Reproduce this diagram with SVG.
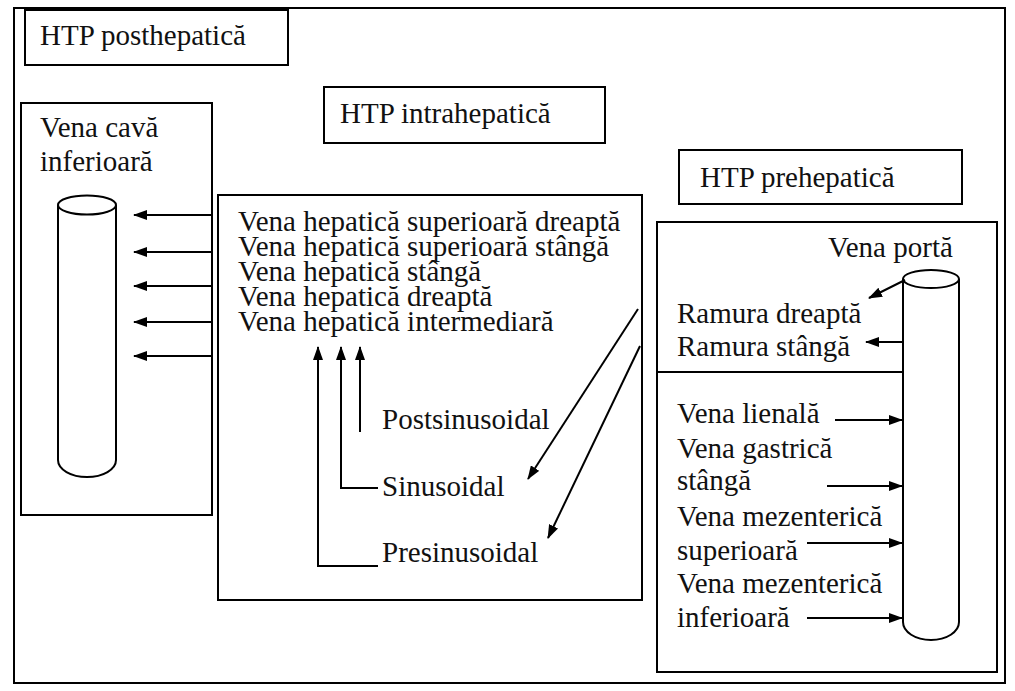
<svg xmlns="http://www.w3.org/2000/svg" width="1015" height="691" viewBox="0 0 1015 691">
<style>
.box{fill:none;stroke:#000;stroke-width:2}
.t{font-family:"Liberation Serif","Times New Roman",serif;font-size:29px;fill:#111}
.ln{fill:none;stroke:#000;stroke-width:2}
.arr{fill:none;stroke:#000;stroke-width:2;marker-end:url(#ah)}
.cyl{fill:#fff;stroke:#000;stroke-width:2}
</style>
<defs>
<marker id="ah" markerWidth="14" markerHeight="10" refX="13" refY="5" orient="auto" markerUnits="userSpaceOnUse">
<path d="M0,0 L14,5 L0,10 Z" fill="#000"/>
</marker>
</defs>
<rect width="1015" height="691" fill="#fff"/>
<rect id="frame" class="box" x="14" y="8" width="991" height="675"/>

<g id="posthepatic-label">
<rect class="box" x="25" y="10" width="263" height="55"/>
<text class="t" x="40" y="45">HTP posthepatică</text>
</g>

<g id="vena-cava">
<rect class="box" x="21" y="103" width="191" height="412"/>
<text class="t" x="40" y="137">Vena cavă</text>
<text class="t" x="40" y="171">inferioară</text>
<path class="cyl" d="M58,205 V460 A29,17 0 0 0 116,460 V205"/>
<ellipse class="cyl" cx="87" cy="205" rx="29" ry="9.5"/>
</g>

<g id="intrahepatic-label">
<rect class="box" x="324" y="87" width="281" height="56"/>
<text class="t" x="340" y="123">HTP intrahepatică</text>
</g>

<g id="intrahepatic">
<rect class="box" x="218" y="195" width="424" height="405"/>
<text class="t" x="238" y="231">Vena hepatică superioară dreaptă</text>
<text class="t" x="238" y="256">Vena hepatică superioară stângă</text>
<text class="t" x="238" y="281">Vena hepatică stângă</text>
<text class="t" x="238" y="306">Vena hepatică dreaptă</text>
<text class="t" x="238" y="331">Vena hepatică intermediară</text>
<text class="t" x="382" y="429">Postsinusoidal</text>
<text class="t" x="382" y="496">Sinusoidal</text>
<text class="t" x="382" y="562">Presinusoidal</text>
</g>

<g id="prehepatic-label">
<rect class="box" x="679" y="150" width="283" height="54"/>
<text class="t" x="700" y="187">HTP prehepatică</text>
</g>

<g id="prehepatic">
<rect class="box" x="657" y="222" width="340" height="450"/>
<line class="ln" x1="657" y1="372" x2="903" y2="372"/>
<path class="cyl" d="M903,279 V622 A28,18 0 0 0 959,622 V279"/>
<ellipse class="cyl" cx="931" cy="279" rx="28" ry="9"/>
<text class="t" x="828" y="257">Vena portă</text>
<text class="t" x="677" y="323">Ramura dreaptă</text>
<text class="t" x="677" y="356">Ramura stângă</text>
<text class="t" x="677" y="423">Vena lienală</text>
<text class="t" x="677" y="458">Vena gastrică</text>
<text class="t" x="677" y="490">stângă</text>
<text class="t" x="677" y="526">Vena mezenterică</text>
<text class="t" x="677" y="560">superioară</text>
<text class="t" x="677" y="593">Vena mezenterică</text>
<text class="t" x="677" y="627">inferioară</text>
</g>

<g id="connectors">
<line class="arr" x1="212" y1="215" x2="134" y2="215"/>
<line class="arr" x1="212" y1="252" x2="134" y2="252"/>
<line class="arr" x1="212" y1="286" x2="134" y2="286"/>
<line class="arr" x1="212" y1="322" x2="134" y2="322"/>
<line class="arr" x1="212" y1="356" x2="134" y2="356"/>
<path class="arr" d="M360,432 V347"/>
<path class="arr" d="M378,488 H341 V347"/>
<path class="arr" d="M378,566 H318 V347"/>
<line class="arr" x1="638" y1="309" x2="528" y2="479"/>
<line class="arr" x1="640" y1="346" x2="548" y2="538"/>
<line class="arr" x1="905" y1="280" x2="869" y2="298"/>
<line class="arr" x1="903" y1="342" x2="866" y2="342"/>
<line class="arr" x1="835" y1="420" x2="902" y2="420"/>
<line class="arr" x1="827" y1="486" x2="902" y2="486"/>
<line class="arr" x1="807" y1="543" x2="902" y2="543"/>
<line class="arr" x1="807" y1="618" x2="902" y2="618"/>
</g>
</svg>
